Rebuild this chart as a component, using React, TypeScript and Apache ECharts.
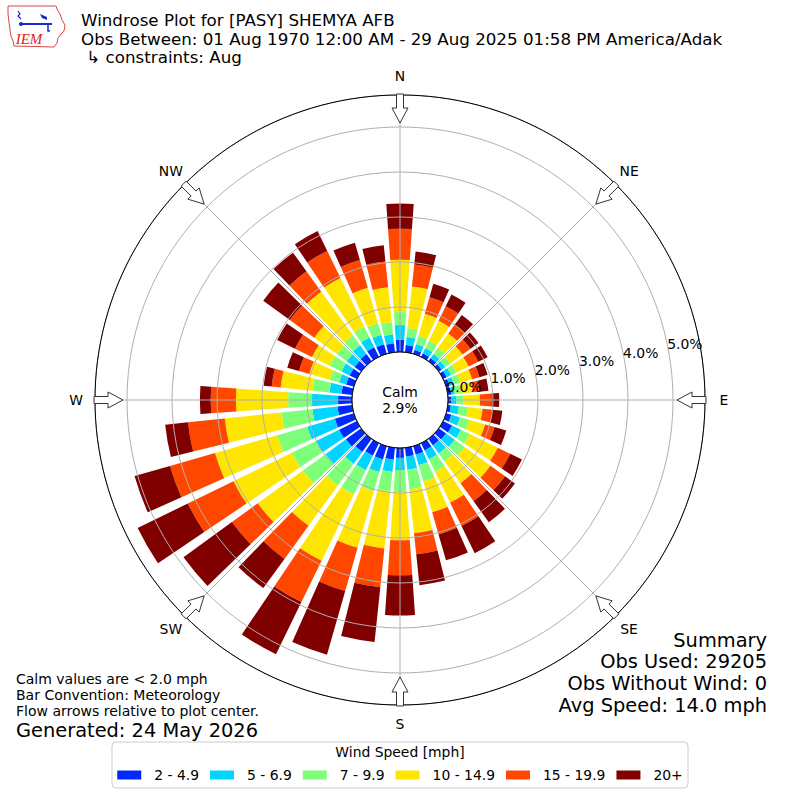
import React, { useEffect, useRef } from 'react';
import * as echarts from 'echarts';

// ---------- data ----------
const directions = ['0','10','20','30','40','50','60','70','80','90','100','110','120','130','140','150','160','170','180','190','200','210','220','230','240','250','260','270','280','290','300','310','320','330','340','350'];
const speedBins = ['2 - 4.9', '5 - 6.9', '7 - 9.9', '10 - 14.9', '15 - 19.9', '20+'];
const binColors = ['#0028ff', '#00d4ff', '#7dff7a', '#ffe600', '#ff4700', '#800000'];

// percent of observations per direction (0..350 deg), per speed bin
const bin2to5 = [0.27,0.16,0.09,0.09,0.09,0.08,0.09,0.08,0.08,0.08,0.07,0.12,0.22,0.2,0.18,0.18,0.2,0.2,0.22,0.27,0.31,0.31,0.36,0.42,0.44,0.44,0.33,0.31,0.24,0.18,0.18,0.18,0.2,0.24,0.22,0.2];
const bin5to7 = [0.33,0.18,0.14,0.13,0.11,0.1,0.11,0.1,0.07,0.11,0.18,0.2,0.22,0.24,0.22,0.22,0.24,0.29,0.27,0.27,0.29,0.36,0.33,0.56,0.58,0.64,0.56,0.58,0.27,0.16,0.2,0.22,0.24,0.24,0.22,0.2];
const bin7to10 = [0.29,0.2,0.19,0.18,0.16,0.14,0.13,0.14,0.15,0.16,0.2,0.22,0.22,0.27,0.22,0.31,0.38,0.44,0.49,0.44,0.44,0.6,0.59,0.62,0.59,0.69,0.69,0.53,0.38,0.22,0.29,0.27,0.27,0.27,0.27,0.27];
const bin10to15 = [1.16,0.93,0.51,0.49,0.4,0.33,0.3,0.28,0.26,0.36,0.33,0.36,0.69,0.71,0.6,0.76,0.71,0.98,1.07,1.27,1.31,1.64,1.11,1.24,1.44,1.44,1.27,1.16,0.71,0.47,0.44,0.62,1.2,1.2,0.82,0.78];
const bin15to20 = [0.69,0.49,0.38,0.36,0.24,0.22,0.24,0.17,0.15,0.26,0.22,0.22,0.31,0.4,0.49,0.58,0.51,0.47,0.78,0.87,1.0,1.02,0.91,0.71,1.13,1.04,0.82,0.56,0.2,0.24,0.42,0.67,0.56,0.67,0.64,0.58];
const bin20plus = [0.56,0.29,0.31,0.29,0.27,0.22,0.23,0.19,0.2,0.17,0.22,0.27,0.29,0.27,0.58,0.67,0.6,0.69,0.89,1.22,1.47,1.29,0.8,1.33,1.24,0.82,0.51,0.24,0.18,0.27,0.44,0.73,0.51,0.49,0.4,0.36];
const binValues = [bin2to5, bin5to7, bin7to10, bin10to15, bin15to20, bin20plus];

const calmPct = 2.9;
const radialTicks = [0, 1, 2, 3, 4, 5];
const radialMax = 5.711;
const compassNames = ['N', 'NE', 'E', 'SE', 'S', 'SW', 'W', 'NW'];
const compassDegrees = [0, 45, 90, 135, 180, 225, 270, 315];

const titleLines = [
  'Windrose Plot for [PASY] SHEMYA AFB',
  'Obs Between: 01 Aug 1970 12:00 AM - 29 Aug 2025 01:58 PM America/Adak',
  ' \u21b3 constraints: Aug',
];
const noteLines = ['Calm values are < 2.0 mph', 'Bar Convention: Meteorology', 'Flow arrows relative to plot center.'];
const generatedLine = 'Generated: 24 May 2026';
const summaryLines = ['Summary', 'Obs Used: 29205', 'Obs Without Wind: 0', 'Avg Speed: 14.0 mph'];
const legendTitle = 'Wind Speed [mph]';

// ---------- layout ----------
const FONT = "'DejaVu Sans', sans-serif";
const CX = 400;
const CY = 400;
const INNER_R = 48;
const OUTER_R = 305;
const SMALL = 13.9;

function txt(text: string, x: number, y: number, fontSize: number, align = 'left', vAlign = 'middle', extra: any = {}) {
  return {
    type: 'text',
    x,
    y,
    z: 30,
    style: {
      text,
      fontSize,
      fontFamily: FONT,
      fill: '#000',
      align,
      textAlign: align,
      verticalAlign: vAlign,
      textVerticalAlign: vAlign,
      ...extra,
    },
  };
}

function arrows() {
  const shape = [[0, 0], [15, -8], [15, -3.5], [29, -3.5], [29, 3.5], [15, 3.5], [15, 8]];
  const tipR = 277;
  return compassDegrees.map((deg) => {
    const t = (deg * Math.PI) / 180;
    const ux = Math.sin(t), uy = -Math.cos(t);
    const px = Math.cos(t), py = Math.sin(t);
    const points = shape.map(([a, b]) => [CX + ux * (tipR + a) + px * b, CY + uy * (tipR + a) + py * b]);
    return {
      type: 'polygon',
      z: 25,
      shape: { points },
      style: { fill: '#fff', stroke: '#333', lineWidth: 1 },
    };
  });
}

function compassLabels() {
  const r = 324;
  return compassDegrees.map((deg, i) => {
    const t = (deg * Math.PI) / 180;
    return txt(compassNames[i], CX + r * Math.sin(t), CY - r * Math.cos(t), SMALL, 'center', 'middle');
  });
}

function logo() {
  const outline = [[8,6],[56,6],[57,9],[60,14],[62,20],[65,25],[64,31],[61,34],[58,38],[57,43],[54,47],[14,46],[13,41],[11,36],[10,30],[9,22],[8,14]];
  return {
    type: 'group',
    z: 30,
    children: [
      { type: 'polygon', shape: { points: outline }, style: { fill: '#fff', stroke: '#d44', lineWidth: 1 } },
      { type: 'line', shape: { x1: 21, y1: 24, x2: 52, y2: 24 }, style: { stroke: '#1a2bd0', lineWidth: 2 } },
      { type: 'polyline', shape: { points: [[18,11],[20,14],[18,16],[21,19]] }, style: { stroke: '#1a2bd0', lineWidth: 1.2, fill: null } },
      { type: 'circle', shape: { cx: 21, cy: 24, r: 2 }, style: { fill: '#1a2bd0' } },
      { type: 'polygon', shape: { points: [[40,14],[47,17],[47,20],[42,18]] }, style: { fill: '#1a2bd0' } },
      { type: 'polyline', shape: { points: [[48,24],[48,31],[50,31]] }, style: { stroke: '#1a2bd0', lineWidth: 1.5, fill: null } },
      { type: 'text', x: 29, y: 39, style: { text: 'IEM', fontSize: 15, fontFamily: "'Liberation Serif', serif", fontStyle: 'italic', fill: '#d22', align: 'center', textAlign: 'center', verticalAlign: 'middle', textVerticalAlign: 'middle' } },
    ],
  };
}

function buildOption(): any {
  const graphic: any[] = [];
  graphic.push(logo());
  titleLines.forEach((t, i) => graphic.push(txt(t, 81, 20 + i * 18.5, 16.7)));
  graphic.push({
    type: 'circle',
    z: 20,
    shape: { cx: CX, cy: CY, r: INNER_R },
    style: { fill: '#fff', stroke: '#000', lineWidth: 1 },
  });
  graphic.push(txt('Calm', CX, CY - 8, SMALL, 'center'));
  graphic.push(txt(calmPct.toFixed(1) + '%', CX, CY + 8, SMALL, 'center'));
  graphic.push(...arrows());
  graphic.push(...compassLabels());
  noteLines.forEach((t, i) => graphic.push(txt(t, 16, 679 + i * 16, 14)));
  graphic.push(txt(generatedLine, 16, 730, 19.4));
  summaryLines.forEach((t, i) => graphic.push(txt(t, 767, 640 + i * 21.7, 19.4, 'right')));
  graphic.push({
    type: 'rect',
    z: 1,
    shape: { x: 112, y: 742, width: 576, height: 46, r: 4 },
    style: { fill: '#fff', stroke: '#cccccc', lineWidth: 1 },
  });
  graphic.push(txt(legendTitle, 400, 752, SMALL, 'center'));

  const series = speedBins.map((name, k) => ({
    type: 'bar',
    name,
    coordinateSystem: 'polar',
    polarIndex: 0,
    stack: 'wind',
    data: binValues[k],
    barWidth: '80%',
    itemStyle: { color: binColors[k] },
    emphasis: { disabled: true },
    z: 2,
  }));

  return {
    animation: false,
    backgroundColor: '#fff',
    textStyle: { fontFamily: FONT },
    polar: [
      { center: ['50%', '50%'], radius: [INNER_R, OUTER_R] },
      { center: ['50%', '50%'], radius: [INNER_R, OUTER_R] },
      { center: ['50%', '50%'], radius: [INNER_R, OUTER_R] },
    ],
    angleAxis: [
      {
        polarIndex: 0, type: 'category', data: directions, startAngle: 95, clockwise: true,
        axisLine: { show: false }, axisTick: { show: false }, axisLabel: { show: false }, splitLine: { show: false },
      },
      {
        polarIndex: 1, type: 'value', min: 0, max: 360, interval: 45, startAngle: 90, clockwise: true, z: 6,
        axisLine: { show: true, lineStyle: { color: '#000', width: 1 } },
        axisTick: { show: false }, axisLabel: { show: false },
        splitLine: { show: true, lineStyle: { color: '#b0b0b0', width: 1 } },
      },
      {
        polarIndex: 2, type: 'value', min: 0, max: 360, startAngle: 11, show: false,
      },
    ],
    radiusAxis: [
      { polarIndex: 0, type: 'value', min: 0, max: radialMax, show: false },
      {
        polarIndex: 1, type: 'value', min: 0, max: radialMax, interval: 1, z: 5,
        axisLine: { show: false }, axisTick: { show: false }, axisLabel: { show: false },
        splitLine: { show: true, lineStyle: { color: '#b0b0b0', width: 1 } },
      },
      {
        polarIndex: 2, type: 'value', min: 0, max: radialMax, interval: 1, z: 7,
        axisLine: { show: false }, axisTick: { show: false }, splitLine: { show: false },
        axisLabel: {
          show: true,
          margin: 4,
          align: 'left',
          verticalAlign: 'middle',
          fontSize: SMALL,
          fontFamily: FONT,
          color: '#000',
          formatter: (v: number) => {
            const r = Math.round(v);
            return Math.abs(v - r) < 1e-6 && radialTicks.includes(r) ? r.toFixed(1) + '%' : '';
          },
        },
      },
    ],
    legend: {
      data: speedBins,
      top: 763,
      left: 'center',
      icon: 'rect',
      itemWidth: 24,
      itemHeight: 9,
      itemGap: 11,
      selectedMode: false,
      z: 10,
      textStyle: { fontSize: SMALL, fontFamily: FONT, color: '#000', padding: [0, 0, 0, 8] },
    },
    graphic,
    series,
  };
}

export default function App() {
  const ref = useRef<HTMLDivElement>(null);
  useEffect(() => {
    document.body.style.margin = '0';
    const chart = echarts.init(ref.current as HTMLDivElement, null, { renderer: 'svg' });
    chart.setOption(buildOption());
    return () => chart.dispose();
  }, []);
  return <div ref={ref} style={{ width: 800, height: 800 }} />;
}
